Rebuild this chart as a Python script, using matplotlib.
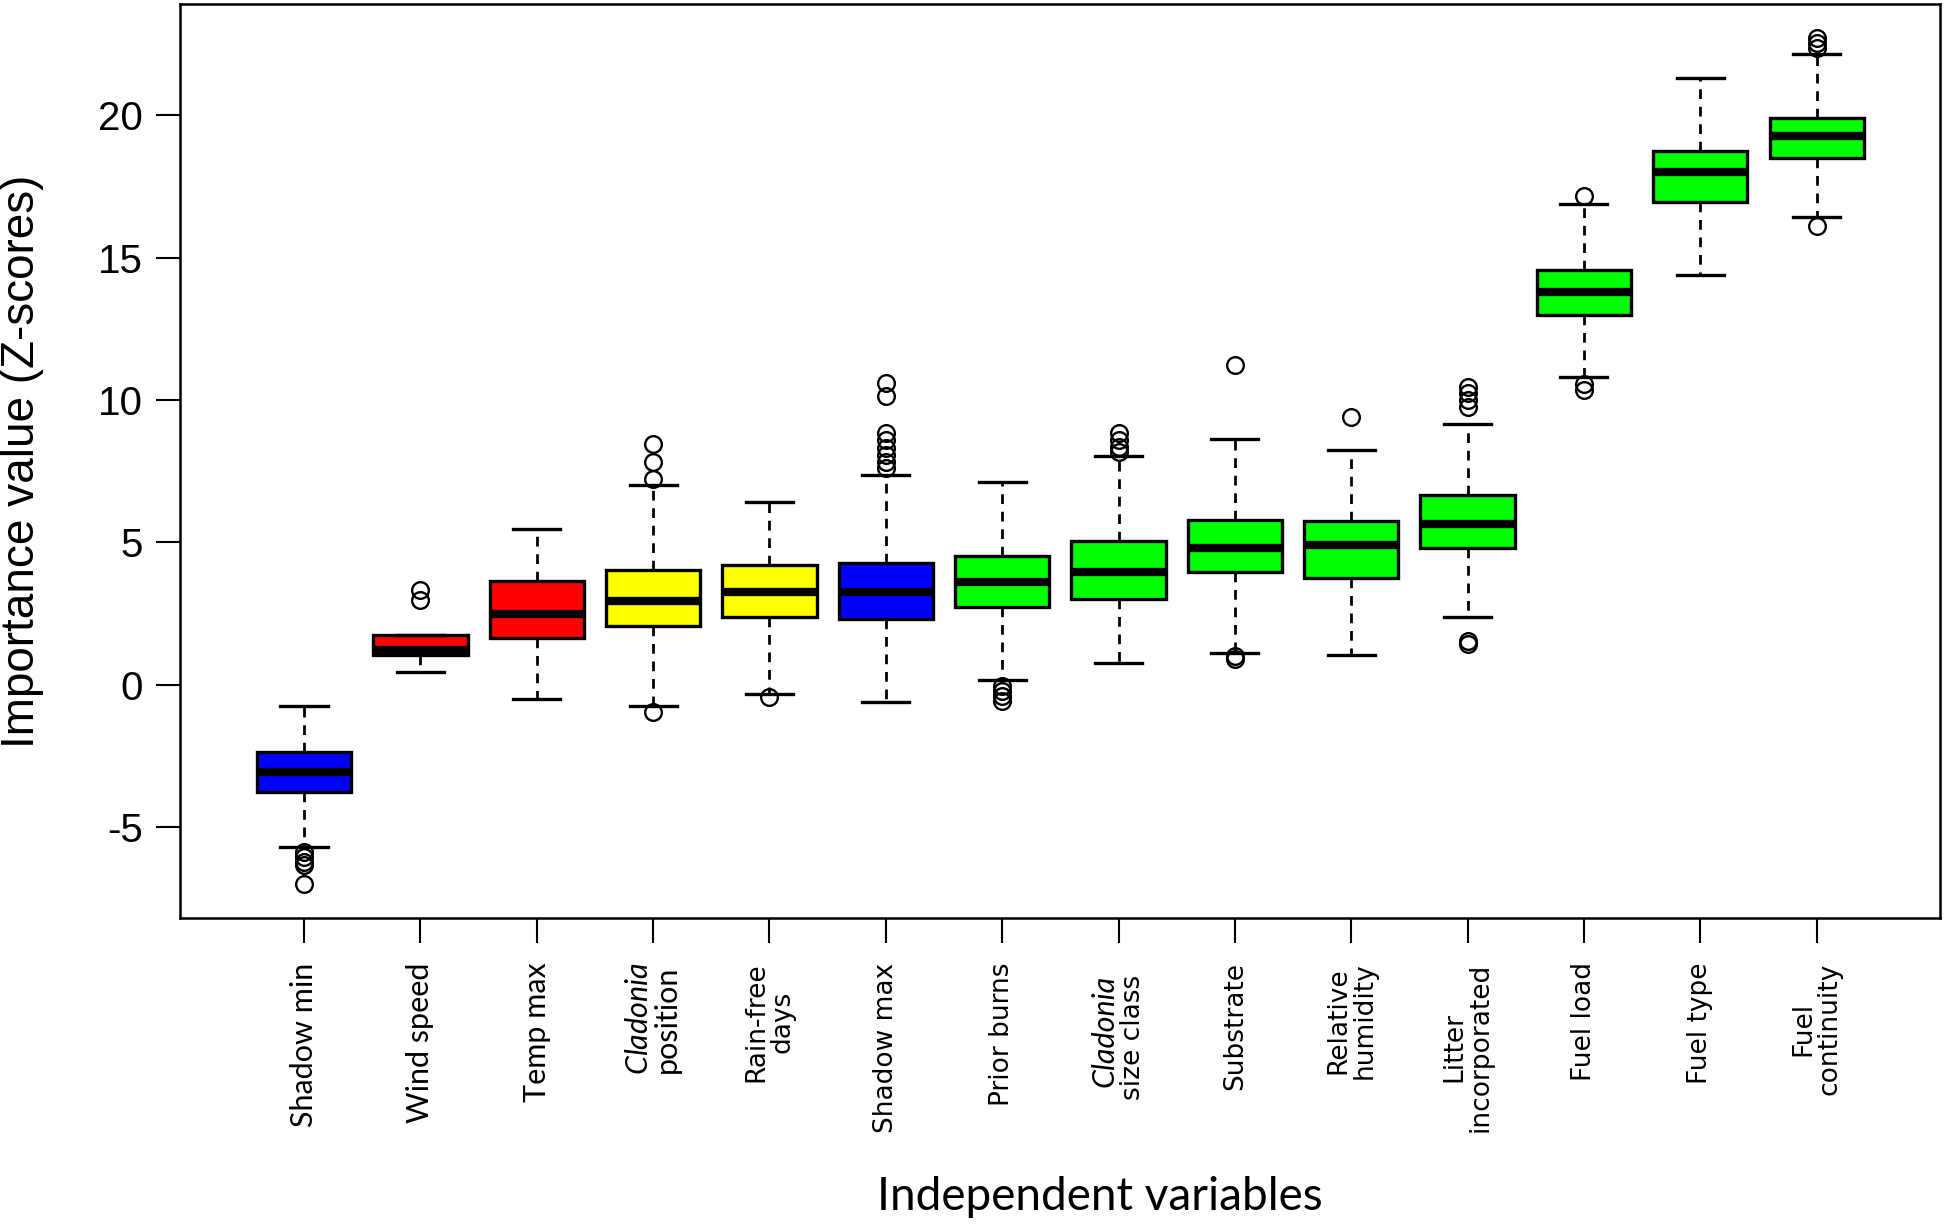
import numpy as np
import matplotlib
matplotlib.use("Agg")
import matplotlib.pyplot as plt
import matplotlib.transforms as mtransforms

plt.rcParams['mathtext.fontset'] = 'custom'
plt.rcParams['mathtext.it'] = 'Lato:italic'
plt.rcParams['mathtext.rm'] = 'Lato'

# variable names (two-line ones split with \n)
labels = ['Shadow min', 'Wind speed', 'Temp max', r'$\it{Cladonia}$' + '\nposition',
          'Rain-free\ndays', 'Shadow max', 'Prior burns',
          'Cladonia\nsize class', 'Substrate', 'Relative\nhumidity',
          'Litter\nincorporated', 'Fuel load', 'Fuel type', 'Fuel\ncontinuity']
label_fonts = ['Lato', 'Lato', 'Lato', 'Lato', 'DejaVu Sans', 'DejaVu Sans',
               'DejaVu Sans', 'DejaVu Sans', 'DejaVu Sans', 'DejaVu Sans',
               'DejaVu Sans', 'DejaVu Sans', 'DejaVu Sans', 'DejaVu Sans']
colors = ['#0000ff', '#ff0000', '#ff0000', '#ffff00', '#ffff00', '#0000ff',
          '#00ff00', '#00ff00', '#00ff00', '#00ff00', '#00ff00', '#00ff00',
          '#00ff00', '#00ff00']

# box statistics (Z-scores)
whislo = [-5.70, 0.45, -0.48, -0.75, -0.33, -0.60, 0.18, 0.78, 1.11, 1.04, 2.39, 10.80, 14.38, 16.43]
q1 = [-3.76, 1.05, 1.65, 2.05, 2.38, 2.32, 2.73, 3.00, 3.96, 3.76, 4.81, 13.00, 16.95, 18.50]
med = [-3.05, 1.22, 2.50, 2.93, 3.27, 3.27, 3.62, 3.96, 4.81, 4.90, 5.65, 13.80, 18.00, 19.26]
q3 = [-2.37, 1.74, 3.63, 4.04, 4.22, 4.28, 4.54, 5.04, 5.80, 5.74, 6.68, 14.58, 18.76, 19.92]
whishi = [-0.75, 1.74, 5.48, 7.03, 6.42, 7.38, 7.11, 8.05, 8.64, 8.23, 9.17, 16.88, 21.31, 22.17]
fliers = [
    [-5.87, -6.05, -6.22, -6.34, -7.00],
    [2.98, 3.34],
    [],
    [-0.95, 7.22, 7.81, 8.45],
    [-0.44],
    [7.61, 7.84, 8.08, 8.31, 8.60, 8.83, 10.15, 10.60],
    [-0.03, -0.21, -0.39, -0.56],
    [8.19, 8.37, 8.60, 8.83],
    [0.90, 1.02, 11.23],
    [9.42],
    [1.42, 1.54, 9.77, 10.00, 10.24, 10.47],
    [10.35, 10.58, 17.15],
    [],
    [16.10, 22.37, 22.55, 22.72],
]

stats = []
for i in range(len(labels)):
    stats.append(dict(whislo=whislo[i], q1=q1[i], med=med[i], q3=q3[i],
                      whishi=whishi[i], fliers=fliers[i]))

fig = plt.figure(figsize=(19.46, 12.25), dpi=100)
ax = fig.add_axes([0.0925, 0.2506, 0.9044, 0.7461])

pos = np.arange(1, len(labels) + 1)
bp = ax.bxp(stats, positions=pos, widths=0.81, patch_artist=True,
            boxprops=dict(linewidth=2.4, edgecolor='black'),
            medianprops=dict(color='black', linewidth=6, solid_capstyle='butt'),
            whiskerprops=dict(color='black', linewidth=2.0, linestyle=(0, (3.5, 2.8))),
            capprops=dict(color='black', linewidth=2.4),
            flierprops=dict(marker='o', markersize=12, markerfacecolor='none',
                            markeredgecolor='black', markeredgewidth=1.7))
for patch, c in zip(bp['boxes'], colors):
    patch.set_facecolor(c)

# R-style axis limits
lo = min(min(whislo), min(min(f) for f in fliers if f))
hi = max(max(whishi), max(max(f) for f in fliers if f))
pad = 0.04 * (hi - lo)
ax.set_ylim(lo - pad, hi + pad)
ax.set_xlim(-0.066, 15.06)

ax.set_yticks([-5, 0, 5, 10, 15, 20])
ax.set_yticklabels(['-5', '0', '5', '10', '15', '20'], family='Liberation Sans', fontsize=29)
ax.set_xticks(pos)
shown = [l if 'size class' not in l else '' for l in labels]
ax.set_xticklabels(shown, rotation=90, ha='center', va='top', multialignment='center',
                   linespacing=1.0)
for t, f in zip(ax.get_xticklabels(), label_fonts):
    t.set_fontfamily(f)
    t.set_fontsize(22 if f == 'Lato' else 19)

# the "Cladonia size class" label mixes an italic genus name with the plain font
k = [i for i, l in enumerate(labels) if 'size class' in l][0]
first, second = labels[k].split('\n')
base = mtransforms.blended_transform_factory(ax.transData, ax.transAxes)
for dx, txt, fam, sty, fs in [(-14, first, 'Lato', 'italic', 22),
                              (14, second, 'DejaVu Sans', 'normal', 19)]:
    tr = base + mtransforms.ScaledTranslation(dx / 100, -57 / 100, fig.dpi_scale_trans)
    ax.text(pos[k], 0, txt, transform=tr, rotation=90, ha='center', va='top',
            family=fam, style=sty, fontsize=fs)

ax.tick_params(axis='x', length=18, width=1.5, pad=14)
ax.tick_params(axis='y', length=17, width=1.5, pad=10)
for s in ax.spines.values():
    s.set_linewidth(1.8)

ax.set_ylabel('Importance value (Z-scores)', family='Liberation Sans', fontsize=33)
ax.yaxis.set_label_coords(-0.0773, 0.5)
fig.text(0.565, 0.023, 'Independent variables', family='Lato', fontsize=33,
         ha='center', va='center')

fig.savefig('out.png', dpi=100)
